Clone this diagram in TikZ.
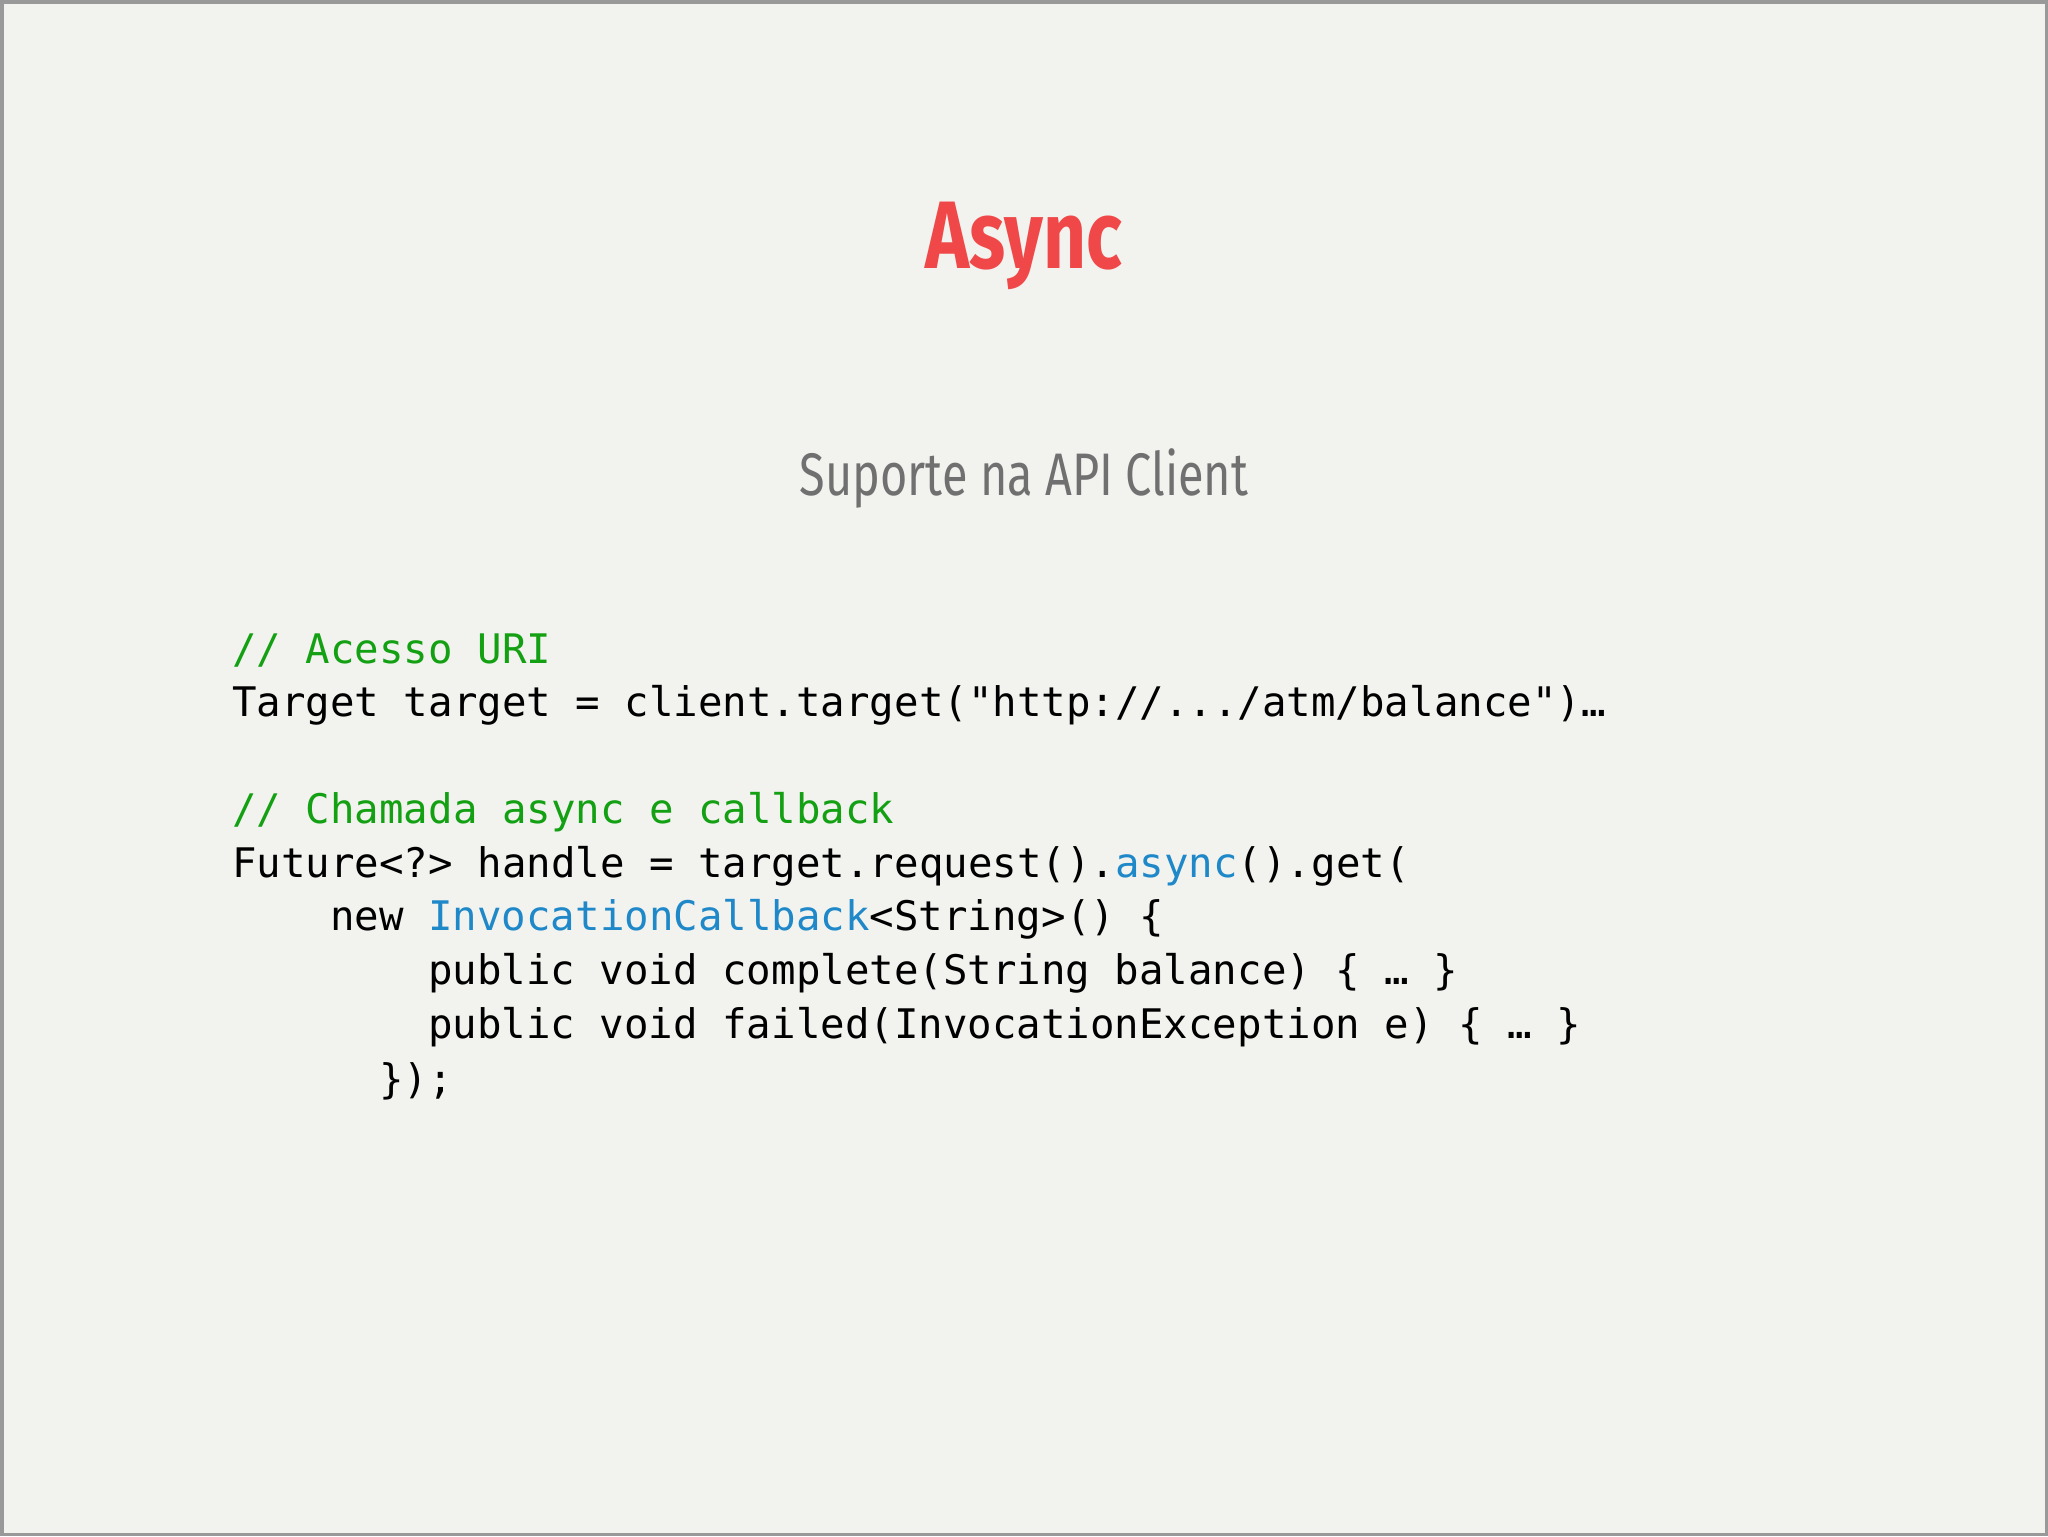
\documentclass[tikz,border=0pt]{standalone}
\usepackage{fontspec}
\setmainfont{Fira Sans}
\newfontfamily\titlefont[FakeStretch=0.78]{Fira Sans}
\newfontfamily\codefont{DejaVu Sans Mono}
\definecolor{bgc}{HTML}{F2F2EF}
\definecolor{redc}{HTML}{F04848}
\definecolor{grayc}{HTML}{707070}
\definecolor{greenc}{HTML}{13A013}
\definecolor{bluec}{HTML}{1E88C8}
\begin{document}
\begin{tikzpicture}[x=1cm,y=1cm,
  code/.style={anchor=west,inner sep=0pt,font=\codefont\fontsize{11.6}{12}\selectfont}]
\fill[bgc] (0,0) rectangle (20.48,-15.36);
\draw[gray!80,line width=1pt] (0.01,-0.01) rectangle (20.47,-15.35);
\node (title) at (10.24,-2.45) {\titlefont\bfseries\fontsize{27.3}{30}\selectfont\color{redc}Async};
\node (sub) at (10.24,-4.78) {\titlefont\fontsize{17.1}{20}\selectfont\color{grayc}Suporte na API Client};
\node[code] (l1) at (2.31,-6.50) {\color{greenc}// Acesso URI};
\node[code] (l2) at (2.31,-7.05) {Target target = client.target("http://.../atm/balance")…};
\node[code] (l3) at (2.31,-8.12) {\color{greenc}// Chamada async e callback};
\node[code] (l4) at (2.31,-8.66) {Future<?> handle = target.request().{\color{bluec}async}().get(};
\node[code] (l5) at (3.29,-9.19) {new {\color{bluec}InvocationCallback}<String>() \{};
\node[code] (l6) at (4.27,-9.73) {public void complete(String balance) \{ … \}};
\node[code] (l7) at (4.27,-10.27) {public void failed(InvocationException e) \{ … \}};
\node[code] (l8) at (3.78,-10.81) {\});};
\end{tikzpicture}
\end{document}
